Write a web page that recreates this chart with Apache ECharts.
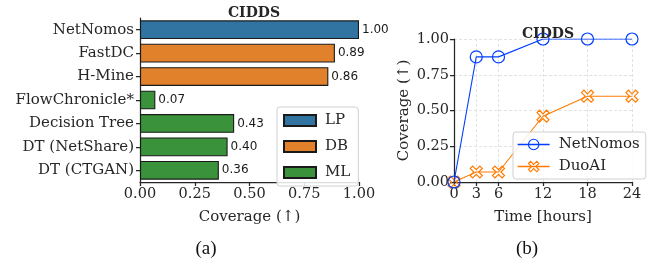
<!DOCTYPE html>
<html>
<head>
<meta charset="utf-8">
<script src="https://cdn.jsdelivr.net/npm/echarts@6/dist/echarts.min.js"></script>
<style>
  html, body { margin: 0; padding: 0; background: #fff; }
  #main { width: 651px; height: 266px; }
</style>
</head>
<body>
<div id="main"></div>
<script>
// (a) coverage per method
const methods = ["NetNomos", "FastDC", "H-Mine", "FlowChronicle*", "Decision Tree", "DT (NetShare)", "DT (CTGAN)"];
const coverage = [1.00, 0.89, 0.86, 0.07, 0.43, 0.40, 0.36];
const methodFamily = ["LP", "DB", "DB", "ML", "ML", "ML", "ML"];
const families = ["LP", "DB", "ML"];
const familyColors = ["#3274a1", "#e1812c", "#3a923a"];

// (b) coverage over time
const hours = [0, 3, 6, 12, 18, 24];
const netNomosCov = [0, 0.875, 0.875, 1.0, 1.0, 1.0];
const duoAICov = [0, 0.07, 0.07, 0.46, 0.60, 0.60];

const serif = "DejaVu Serif";
const ink = "#262626";
const xMarker = "path://M0 2 L2 0 L5 3 L8 0 L10 2 L7 5 L10 8 L8 10 L5 7 L2 10 L0 8 L3 5 Z";

const barSeries = families.map(function (fam, i) {
  return {
    type: "bar",
    name: fam,
    stack: "cov",
    xAxisIndex: 0,
    yAxisIndex: 0,
    barWidth: "80%",
    data: coverage.map(function (v, k) { return methodFamily[k] === fam ? v : "-"; }),
    itemStyle: { color: familyColors[i], borderColor: "#1a1a1a", borderWidth: 1.1 },
    label: {
      show: true,
      position: "right",
      distance: 3,
      fontFamily: "DejaVu Sans",
      fontSize: 12,
      fontWeight: "normal",
      color: "#1a1a1a",
      formatter: function (p) { return p.value.toFixed(2); }
    }
  };
});

const axisLineStyle = { color: ink, width: 1.25 };
const nameStyle = { fontFamily: serif, fontSize: 15, fontWeight: "normal", color: ink };

const option = {
  animation: false,
  title: [
    { text: "CIDDS", left: 249, top: 1, textAlign: "center",
      textStyle: { fontFamily: serif, fontSize: 14, fontWeight: "bold", color: ink } },
    { text: "CIDDS", left: 543, top: 22, textAlign: "center",
      textStyle: { fontFamily: serif, fontSize: 14, fontWeight: "bold", color: ink } },
    { text: "(a)", left: 201, top: 235, textAlign: "center",
      textStyle: { fontFamily: "Liberation Serif", fontSize: 19, fontWeight: "normal", color: "#111" } },
    { text: "(b)", left: 522, top: 235, textAlign: "center",
      textStyle: { fontFamily: "Liberation Serif", fontSize: 19, fontWeight: "normal", color: "#111" } }
  ],
  legend: [
    {
      data: families,
      orient: "vertical",
      left: 277,
      top: 107,
      padding: [6, 8, 6, 6],
      itemWidth: 32,
      itemHeight: 11,
      itemGap: 11,
      icon: "rect",
      backgroundColor: "rgba(255,255,255,0.85)",
      borderColor: "#d0d0d0",
      borderWidth: 1,
      borderRadius: 3,
      textStyle: { fontFamily: serif, fontSize: 15, color: ink, padding: [0, 0, 0, 4] }
    },
    {
      data: ["NetNomos", "DuoAI"],
      orient: "vertical",
      left: 513,
      top: 132,
      padding: [5, 6, 5, 4],
      itemWidth: 32,
      itemHeight: 13,
      itemGap: 7,
      lineStyle: { width: 1.3 },
      itemStyle: { borderWidth: 1.1 },
      backgroundColor: "rgba(255,255,255,0.85)",
      borderColor: "#d0d0d0",
      borderWidth: 1,
      borderRadius: 3,
      textStyle: { fontFamily: serif, fontSize: 15, color: ink, padding: [0, 0, 0, 4] }
    }
  ],
  grid: [
    { left: 140, top: 18, width: 219, height: 164 },
    { left: 454, top: 39, width: 178, height: 143 }
  ],
  xAxis: [
    {
      gridIndex: 0,
      type: "value",
      min: 0,
      max: 1,
      interval: 0.25,
      name: "Coverage (↑)",
      nameLocation: "middle",
      nameGap: 28,
      nameTextStyle: nameStyle,
      axisLine: { show: true, lineStyle: axisLineStyle },
      axisTick: { show: true, length: 4, lineStyle: axisLineStyle },
      axisLabel: { fontFamily: serif, fontSize: 14.5, color: ink, margin: 5,
        formatter: function (v) { return v.toFixed(2); } },
      splitLine: { show: false }
    },
    {
      gridIndex: 1,
      type: "value",
      min: 0,
      max: 24,
      name: "Time [hours]",
      nameLocation: "middle",
      nameGap: 28,
      nameTextStyle: nameStyle,
      axisLine: { show: true, lineStyle: axisLineStyle },
      axisTick: { show: true, length: 4, lineStyle: axisLineStyle, customValues: hours },
      axisLabel: { fontFamily: serif, fontSize: 14.5, color: ink, margin: 5, customValues: hours },
      splitLine: { show: true, lineStyle: { color: "#dcdcdc", width: 0.8, type: [3, 2] } }
    }
  ],
  yAxis: [
    {
      gridIndex: 0,
      type: "category",
      data: methods,
      inverse: true,
      axisLine: { show: true, lineStyle: axisLineStyle },
      axisTick: { show: true, length: 4, alignWithLabel: true, lineStyle: axisLineStyle },
      axisLabel: { fontFamily: serif, fontSize: 15, color: ink, margin: 6 },
      splitLine: { show: false }
    },
    {
      gridIndex: 1,
      type: "value",
      min: 0,
      max: 1,
      interval: 0.25,
      name: "Coverage (↑)",
      nameLocation: "middle",
      nameGap: 42,
      nameTextStyle: nameStyle,
      axisLine: { show: true, lineStyle: axisLineStyle },
      axisTick: { show: true, length: 4, lineStyle: axisLineStyle },
      axisLabel: { fontFamily: serif, fontSize: 14.5, color: ink, margin: 5,
        formatter: function (v) { return v.toFixed(2); } },
      splitLine: { show: true, lineStyle: { color: "#dcdcdc", width: 0.8, type: [3, 2] } }
    }
  ],
  series: barSeries.concat([
    {
      type: "line",
      name: "NetNomos",
      xAxisIndex: 1,
      yAxisIndex: 1,
      data: hours.map(function (h, i) { return [h, netNomosCov[i]]; }),
      symbol: "circle",
      symbolSize: 12,
      z: 3,
      lineStyle: { color: "#023eff", width: 1.1 },
      itemStyle: { color: "rgba(255,255,255,0)", borderColor: "#023eff", borderWidth: 1.2 }
    },
    {
      type: "line",
      name: "DuoAI",
      xAxisIndex: 1,
      yAxisIndex: 1,
      data: hours.map(function (h, i) { return [h, duoAICov[i]]; }),
      symbol: xMarker,
      symbolSize: 12,
      z: 2,
      lineStyle: { color: "#ff7c00", width: 1.1 },
      itemStyle: { color: "rgba(255,255,255,0)", borderColor: "#ff7c00", borderWidth: 1.2 }
    }
  ])
};

const chart = echarts.init(document.getElementById("main"));
chart.setOption(option);
</script>
</body>
</html>
